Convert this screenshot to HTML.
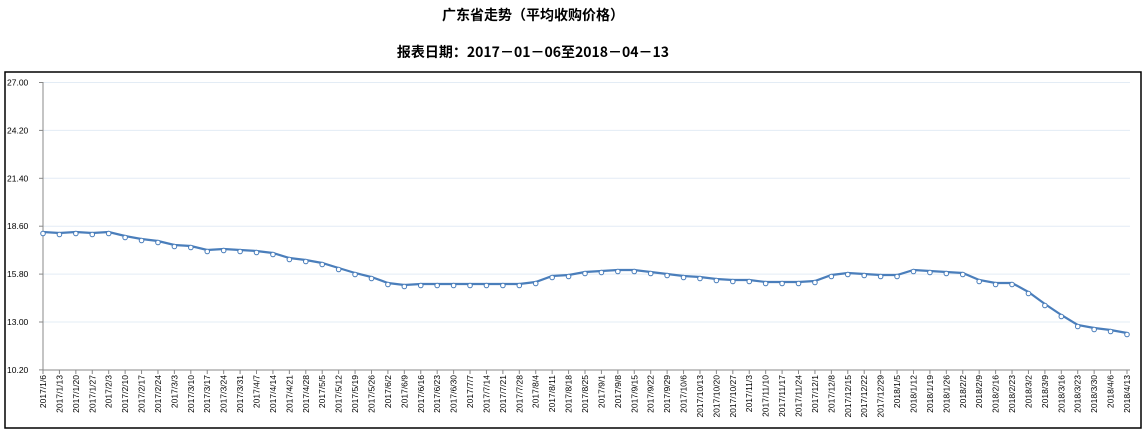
<!DOCTYPE html>
<html><head><meta charset="utf-8"><style>
body{margin:0;background:#fff;width:1146px;height:437px;overflow:hidden}
svg{display:block}
</style></head><body>
<svg id="s" width="1146" height="437" xmlns="http://www.w3.org/2000/svg" font-family="Liberation Sans, Noto Sans CJK SC, sans-serif">
<text x="533" y="20" text-anchor="middle" font-size="14" font-weight="bold" font-family="Noto Sans CJK SC, sans-serif">广东省走势（平均收购价格）</text>
<text x="533" y="57" text-anchor="middle" font-size="14" font-weight="bold" font-family="Noto Sans CJK SC, sans-serif">报表日期：2017－01－06至2018－04－13</text>
<rect x="5" y="72" width="1136" height="356" fill="none" stroke="#000" stroke-width="1.5"/>
<g id="g"></g>
</svg>
<script>
const g=document.getElementById('g');let h='';
const ns=['27.00','24.20','21.40','18.60','15.80','13.00','10.20'];
for(let i=0;i<7;i++){const y=82.5+i*47.9;
 if(i<6)h+=`<line x1="43" x2="1130" y1="${y}" y2="${y}" stroke="#e3ecf5" stroke-width="1"/>`;
 h+=`<line x1="39" x2="43" y1="${y}" y2="${y}" stroke="#888"/>`;
 h+=`<text x="7" y="${y+3}" font-size="8.5">${ns[i]}</text>`;}
h+=`<line x1="43" x2="43" y1="82" y2="370" stroke="#888"/><line x1="43" x2="1130" y1="370" y2="370" stroke="#888"/>`;
const ys=[232,233,232,233,232,236,239,241,245,246,250,249,250,251,253,258,260,263,268,273,277,283,285,284,284,284,284,284,284,284,282,276,275,272,271,270,270,272,274,276,277,279,280,280,282,282,282,281,275,273,274,275,275,270,271,272,273,280,283,283,292,304,315,325,328,330,333];
const d=[];let t=new Date(2017,0,6);
for(let i=0;i<67;i++){d.push(t.getFullYear()+'/'+(t.getMonth()+1)+'/'+t.getDate());t=new Date(t.getTime()+7*864e5);}
const dx=1084/66;let p='';
for(let i=0;i<67;i++){const x=43+i*dx;p+=(i?'L':'M')+x.toFixed(1)+','+ys[i];
 h+=`<line x1="${x}" x2="${x}" y1="370" y2="374" stroke="#888"/>`;
 h+=`<text transform="translate(${x+3},375) rotate(-90)" text-anchor="end" font-size="8.5">${d[i]}</text>`;}
h+=`<path d="${p}" fill="none" stroke="#4a7ebb" stroke-width="2.2"/>`;
for(let i=0;i<67;i++){const x=43+i*dx;h+=`<circle cx="${x}" cy="${ys[i]+1.5}" r="2.3" fill="#fff" stroke="#4a7ebb" stroke-width="1"/>`;}
g.innerHTML=h;
</script>
</body></html>
